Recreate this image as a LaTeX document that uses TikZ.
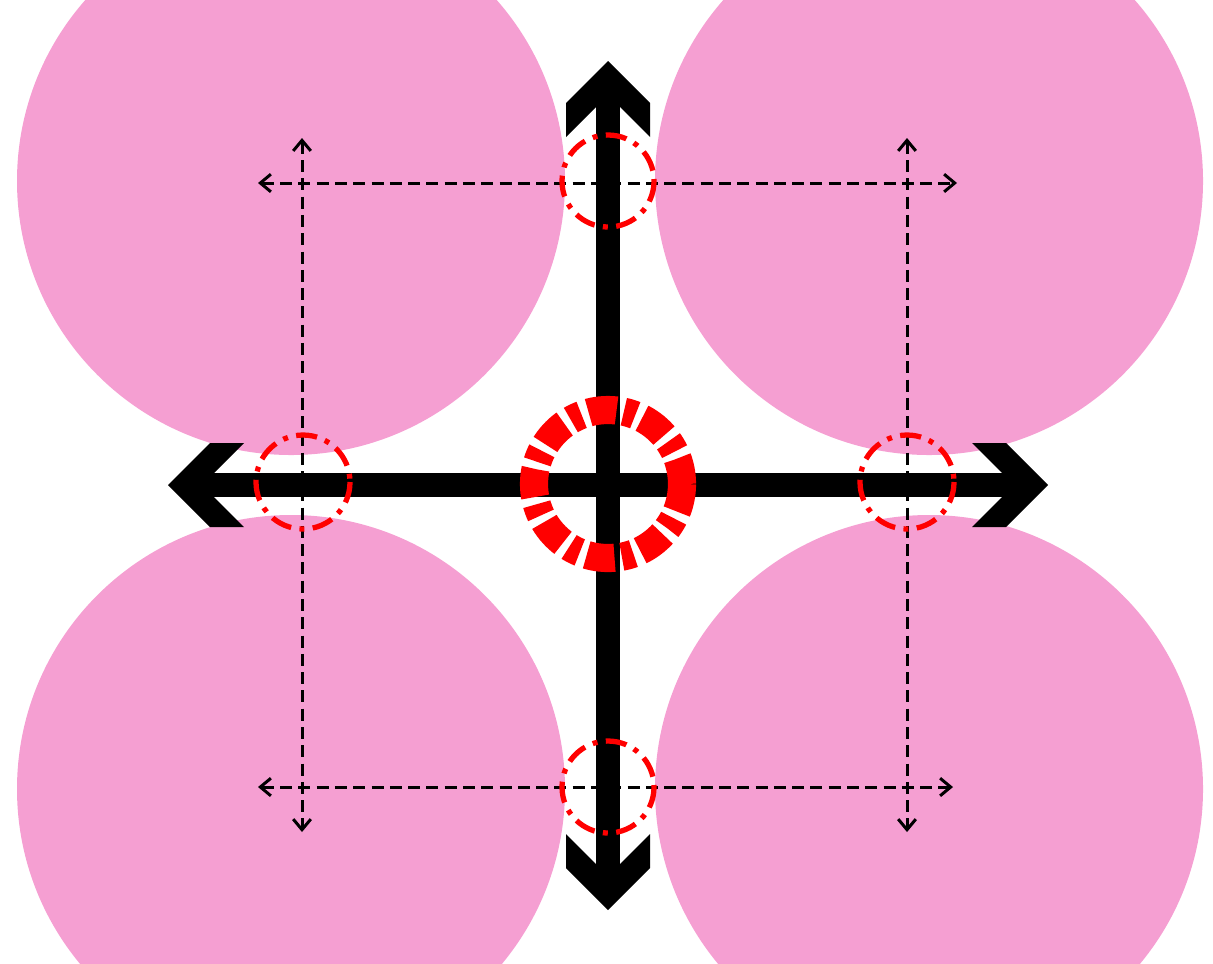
\documentclass[tikz,border=0pt]{standalone}
\usepackage{tikz}
\usetikzlibrary{arrows.meta, calc}
\definecolor{lobepink}{RGB}{245,159,210}
\definecolor{ringred}{RGB}{255,0,0}
\newcommand{\ChevronTip}[2]{%
    \fill[black, shift={(#1)}, rotate=#2]
        (0,0) -- (42,42) -- (42,76) -- (0,34) -- (-42,76) -- (-42,42) -- cycle;%
}
\begin{document}
\begin{tikzpicture}[x=0.01cm, y=-0.01cm,
        lobe/.style={fill=lobepink},
        guide/.style={line width=0.85pt, dash pattern=on 3.4pt off 1.8pt, {Straight Barb[length=3pt,width=5pt]}-{Straight Barb[length=3pt,width=5pt]}},
        shaft/.style={line width=6.6pt, shorten <=0.2cm, shorten >=0.2cm},
        probe/.style={ringred, line width=1.5pt, dash pattern=on 6pt off 2.4pt on 1.4pt off 2.4pt},
        hub/.style={ringred, line width=8pt, dash pattern=on 8pt off 2.1pt on 3.4pt off 2.1pt}]
        \useasboundingbox (0,0) rectangle (1213,963);

        % Explicit Coordinates: pixel grid, y downwards
        \coordinate (C)  at (608,484);      % Centre of the cross
        \coordinate (N)  at (608,61);       % Top tip
        \coordinate (S)  at (608,910);      % Bottom tip
        \coordinate (W)  at (168,485);      % Left tip
        \coordinate (E)  at (1048,485);     % Right tip

        \coordinate (TL) at (291,181);      % Lobe centres
        \coordinate (TR) at (929,181);
        \coordinate (BL) at (291,789);
        \coordinate (BR) at (929,789);

        \coordinate (hTa) at (258,183);     % Dashed guides
        \coordinate (hTb) at (957,183);
        \coordinate (hBa) at (258,787);
        \coordinate (hBb) at (953,787);
        \coordinate (vLa) at (302,138);
        \coordinate (vLb) at (302,832);
        \coordinate (vRa) at (907,138);
        \coordinate (vRb) at (907,832);

        % lobes
        \foreach \c in {TL,TR,BL,BR}
            \fill[lobe] (\c) circle[radius=274];

        % guides
        \draw[guide] (hTa) -- (hTb);
        \draw[guide] (hBa) -- (hBb);
        \draw[guide] (vLa) -- (vLb);
        \draw[guide] (vRa) -- (vRb);

        % cross
        \draw[shaft] (W) -- (E);
        \draw[shaft] (N) -- (S);
        \ChevronTip{N}{0}
        \ChevronTip{W}{90}
        \ChevronTip{S}{180}
        \ChevronTip{E}{-90}

        % rings
        \draw[probe] (608,181) circle[radius=46];
        \draw[probe] (608,787) circle[radius=46];
        \draw[probe] (303,482) circle[radius=47];
        \draw[probe] (907,482) circle[radius=47];
        \draw[hub] (C) circle[radius=74];
    \end{tikzpicture}
\end{document}
